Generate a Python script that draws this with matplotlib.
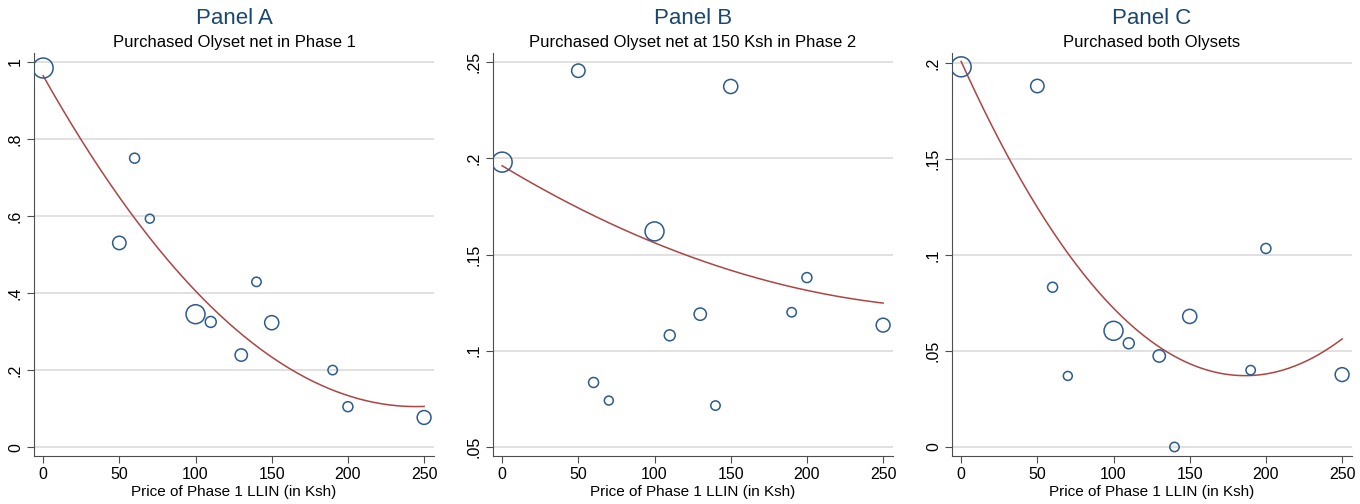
import numpy as np
import matplotlib.pyplot as plt

price = [0, 50, 60, 70, 100, 110, 130, 140, 150, 190, 200, 250]
# approximate number of households per price group (marker weight)
n_obs = [100, 45, 25, 20, 90, 30, 38, 22, 50, 22, 25, 48]

share_a = [0.984, 0.530, 0.750, 0.593, 0.345, 0.325, 0.239, 0.429, 0.323, 0.200, 0.105, 0.077]
share_b = [0.198, 0.2455, 0.0835, 0.0741, 0.162, 0.108, 0.119, 0.0715, 0.2373, 0.120, 0.138, 0.1133]
share_c = [0.198, 0.188, 0.0832, 0.037, 0.0605, 0.054, 0.0474, 0.0, 0.068, 0.040, 0.1034, 0.0377]

panels = ["Panel A", "Panel B", "Panel C"]
subtitles = ["Purchased Olyset net in Phase 1",
             "Purchased Olyset net at 150 Ksh in Phase 2",
             "Purchased both Olysets"]
yticks = [[0, 0.2, 0.4, 0.6, 0.8, 1.0],
          [0.05, 0.10, 0.15, 0.20, 0.25],
          [0, 0.05, 0.10, 0.15, 0.20]]
ylabels = [["0", ".2", ".4", ".6", ".8", "1"],
           [".05", ".1", ".15", ".2", ".25"],
           ["0", ".05", ".1", ".15", ".2"]]
ylims = [(-0.023, 1.023), (0.0453, 0.2547), (-0.0047, 0.2052)]
xticks = [0, 50, 100, 150, 200, 250]

navy = "#1a476f"
marker_col = "#2c5b8c"
maroon = "#ad4444"

plt.rcParams['font.family'] = ['Liberation Sans', 'DejaVu Sans']

fig = plt.figure(figsize=(13.6, 5.04), dpi=100)
lefts = [34, 493, 952]
series = [share_a, share_b, share_c]

x = np.array(price, dtype=float)
w = np.array(n_obs, dtype=float)
xs = np.linspace(0, 250, 200)

for i in range(3):
    ax = fig.add_axes([lefts[i] / 1360, 48 / 504, 400 / 1360, 403 / 504])
    y = np.array(series[i])
    ax.scatter(x, y, s=w * 2.07, facecolors='none', edgecolors=marker_col, linewidths=1.1, zorder=3)
    # quadratic fit, weighted by group size
    coef = np.polyfit(x, y, 2, w=np.sqrt(w))
    ax.plot(xs, np.polyval(coef, xs), color=maroon, lw=1.1, zorder=2)

    ax.set_xlim(-6, 256.5)
    ax.set_ylim(*ylims[i])
    ax.set_xticks(xticks)
    ax.set_yticks(yticks[i])
    ax.set_yticklabels(ylabels[i], rotation=90, va='center')
    ax.grid(axis='y', color='#d9d9d9', lw=1.1)
    ax.set_axisbelow(True)
    for s in ['top', 'right']:
        ax.spines[s].set_visible(False)
    for s in ['left', 'bottom']:
        ax.spines[s].set_color('#4d4d4d')
    ax.tick_params(length=5, color='#4d4d4d', labelsize=11.5, pad=3)
    ax.set_xlabel("Price of Phase 1 LLIN (in Ksh)", fontsize=11, labelpad=2)

    cx = (lefts[i] + 200) / 1360
    fig.text(cx, 1 - 18 / 504, panels[i], ha='center', va='center', fontsize=16, color=navy)
    fig.text(cx, 1 - 42 / 504, subtitles[i], ha='center', va='center', fontsize=12)

fig.savefig("out.png", dpi=100)
